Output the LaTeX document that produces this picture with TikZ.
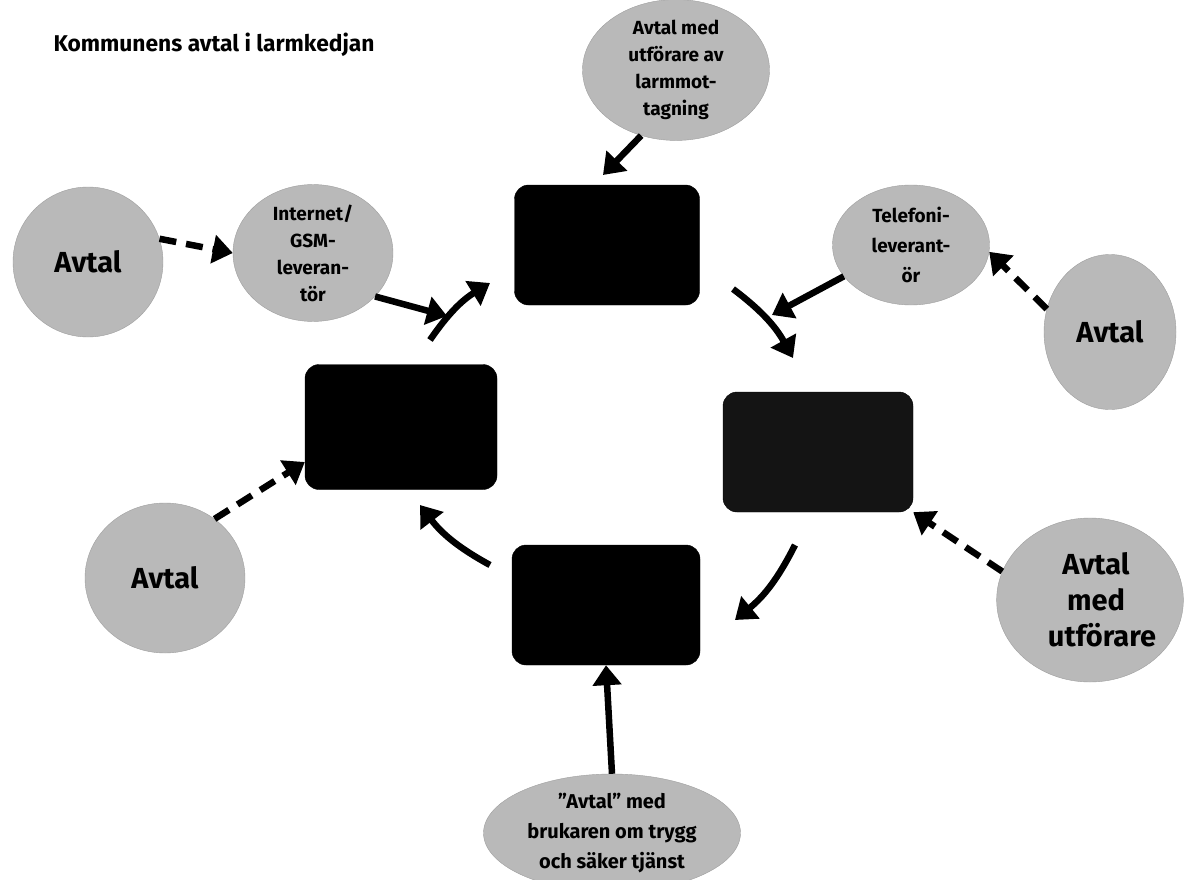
\documentclass[tikz,border=0pt]{standalone}
\usepackage{fontspec}
\setmainfont{Fira Sans}
\usetikzlibrary{arrows.meta,shapes.geometric}
\tikzset{
  box/.style={draw=black, fill=black, rounded corners=14pt, minimum width=#1, minimum height=120pt, inner sep=0pt},
  box/.default=188pt,
  oval/.style={ellipse, draw=gray!75, fill=gray!55, align=center, font=\bfseries\fontsize{19}{27}\selectfont, inner sep=0pt, text=black},
  bigoval/.style={oval, font=\bfseries\fontsize{29}{36}\selectfont},
  solidarr/.style={line width=6.5pt, -{Triangle[length=20pt,width=28pt]}, black},
  dasharr/.style={line width=6.5pt, dash pattern=on 17pt off 10pt, -{Triangle[length=20pt,width=28pt]}, black},
}
\begin{document}
\begin{tikzpicture}[x=1pt,y=-1pt]
\useasboundingbox (0,0) rectangle (1186,880);
\node[anchor=west, font=\bfseries\fontsize{22.8}{26}\selectfont] (title) at (50,45) {Kommunens avtal i larmkedjan};

% boxes
\node[box=185pt] (topbox) at (607,245) {};
\node[box=192pt, minimum height=125pt] (leftbox) at (401,427) {};
\node[box=190pt, fill=black!92] (rightbox) at (818,452) {};
\node[box=188pt] (bottombox) at (606,605) {};

% ovals
\node[oval, minimum width=187pt, minimum height=126pt] (eTop) at (676,70) {Avtal med\\utförare av\\larmmot-\\tagning};
\node[oval, minimum width=160pt, minimum height=124pt] (eNet) at (313,253) {Internet/\\GSM-\\leveran-\\tör};
\node[oval, minimum width=157pt, minimum height=120pt, font=\bfseries\fontsize{19}{30}\selectfont] (eTel) at (911,245) {Telefoni-\\leverant-\\ör};
\node[oval, minimum width=257pt, minimum height=118pt, font=\bfseries\fontsize{20}{30}\selectfont] (eBot) at (612,833) {"Avtal" med\\brukaren om trygg\\och säker tjänst};
\node[bigoval, minimum width=150pt, minimum height=150pt] (aL1) at (88,262) {Avtal};
\node[bigoval, minimum width=132pt, minimum height=155pt] (aR1) at (1110,332) {Avtal};
\node[bigoval, minimum width=160pt, minimum height=164pt] (aR2) at (1090,600) {\hspace*{12pt}Avtal\\\hspace*{12pt}med\\\hspace*{24pt}utförare};
\node[bigoval, minimum width=160pt, minimum height=150pt] (aL2) at (165,578) {Avtal};

% connectors
\coordinate (c1) at (447,316);
\draw[solidarr] (eNet.-35) -- (c1);
\coordinate (s2) at (430,340); \coordinate (t2) at (490,283);
\draw[solidarr] (s2) to[bend left=12] (t2);
\coordinate (s3) at (733,289); \coordinate (t3) at (793,358);
\draw[solidarr] (s3) to[bend left=12] (t3);
\coordinate (s4) at (795,545); \coordinate (t4) at (735,620);
\draw[solidarr] (s4) to[bend left=12] (t4);
\coordinate (s5) at (490,565); \coordinate (t5) at (420,505);
\draw[solidarr] (s5) to[bend left=12] (t5);
\coordinate (t6) at (772,315);
\draw[solidarr] (eTel.205) -- (t6);
\coordinate (t7) at (603,175);
\draw[solidarr] (eTop.-118) -- (t7);
\draw[solidarr] (eBot.north) -- (bottombox.south);
\draw[dasharr] (aL1.18) -- (eNet.west);
\draw[dasharr] (aR1.160) -- (eTel.-5);
\draw[dasharr] (aR2.162) -- (rightbox.south east);
\draw[dasharr] (aL2.50) -- (leftbox.-160);
\end{tikzpicture}
\end{document}
